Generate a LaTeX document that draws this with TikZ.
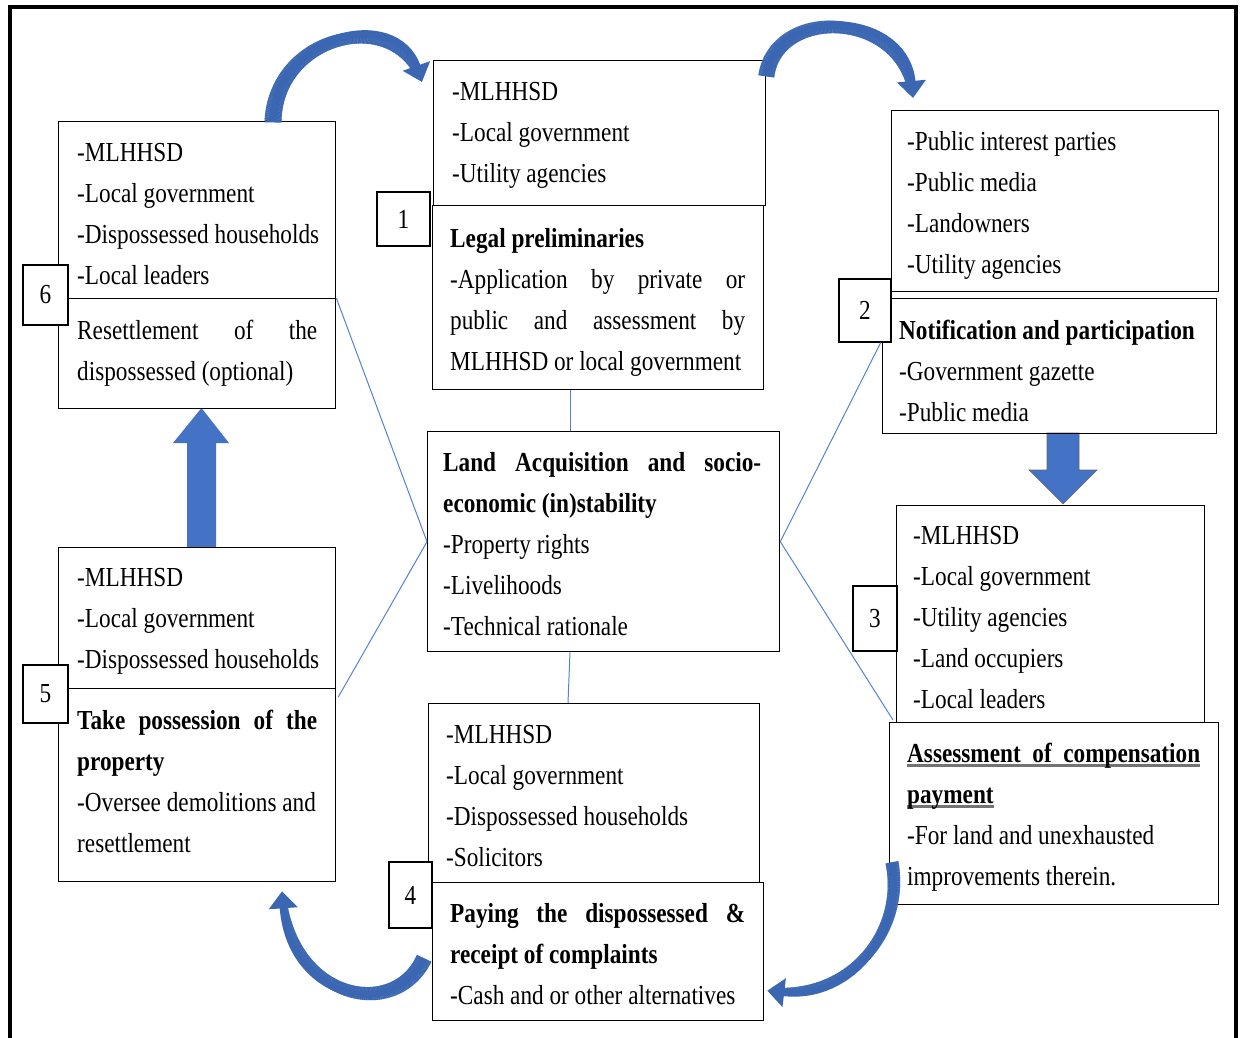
\documentclass[tikz,border=0pt]{standalone}
\usepackage{fontspec}
\setmainfont{Liberation Serif}[FakeStretch=0.845]
\usetikzlibrary{arrows.meta,calc,decorations.markings}
\definecolor{linkblue}{RGB}{84,130,206}
\definecolor{arrowblue}{RGB}{59,103,178}
\definecolor{blockblue}{RGB}{68,114,196}
% a line stretched to a given width
\newcommand\jl[2]{\makebox[#1][s]{#2}}
% heading underline with a soft grey bar
\newcommand\ulbar[1]{\setbox0\hbox{#1}\rlap{\color{black!55}\rule[-4.5pt]{\wd0}{2.4pt}}\box0}
\begin{document}
\begin{tikzpicture}[x=1pt,y=-1pt,
  box/.style={draw=black, line width=1.3pt, rectangle, anchor=north west, inner sep=0pt},
  numbox/.style={draw=black, line width=1.3pt, fill=white, rectangle, inner sep=0pt,
    font=\fontsize{27.5}{33}\selectfont},
  txt/.style={anchor=north west, inner sep=0pt, align=left,
    font=\fontsize{27.5}{41}\selectfont},
  conn/.style={draw=linkblue, line width=1pt},
  % tapered curved arrow: start width #1, end width #2
  curv/.style 2 args={draw=arrowblue, line width=#2pt, -{Triangle[width=28pt,length=17pt]},
    postaction={decorate}, decoration={markings,
    mark=between positions 0 and -17pt step 0.6pt with {%
      \pgfmathsetmacro\tw{#1-(#1-#2)*\pgfkeysvalueof{/pgf/decoration/mark info/distance from start}/\pgfdecoratedpathlength}%
      \fill[arrowblue] (-0.45pt,-\tw pt/2) rectangle (0.45pt,\tw pt/2);}}},
  blockarrow/.style={fill=blockblue, draw=black!60, line width=0.6pt}
]
\useasboundingbox (0,0) rectangle (1243,1037);

% outer frame
\draw[line width=4pt] (10,1040) -- (10,7) -- (1236,7) -- (1236,1040);

% block arrows between stages 2-3 and 5-6
\path[blockarrow] (1047,433) -- (1079,433) -- (1079,470) -- (1097,470) -- (1063,504)
  -- (1029,470) -- (1047,470) -- cycle;
\path[blockarrow, draw=none] (187,547) -- (216,547) -- (216,443) -- (229,443) -- (201.5,408)
  -- (173,443) -- (187,443) -- cycle;

% stage boxes
\node[box, minimum width=332pt, minimum height=145pt] (b1a) at (433,60) {};
\node[box, minimum width=331pt, minimum height=184pt] (b1b) at (432,205) {};
\node[box, minimum width=327pt, minimum height=181pt] (b2a) at (891,110) {};
\node[box, minimum width=334pt, minimum height=135pt] (b2b) at (882,298) {};
\node[box, minimum width=308pt, minimum height=217pt] (b3a) at (896,505) {};
\node[box, minimum width=329pt, minimum height=182pt] (b3b) at (889,722) {};
\node[box, minimum width=331pt, minimum height=179pt] (b4a) at (428,703) {};
\node[box, minimum width=331pt, minimum height=138pt] (b4b) at (432,882) {};
\node[box, minimum width=277pt, minimum height=141pt] (b5a) at (58,547) {};
\node[box, minimum width=277pt, minimum height=193pt] (b5b) at (58,688) {};
\node[box, minimum width=277pt, minimum height=177pt] (b6a) at (58,121) {};
\node[box, minimum width=277pt, minimum height=110pt] (b6b) at (58,298) {};
\node[box, minimum width=352pt, minimum height=220pt] (cen) at (427,431) {};

% stage numbers
\node[numbox, minimum width=53pt, minimum height=54pt] (n1) at (403.5,219) {1};
\node[numbox, minimum width=52pt, minimum height=63pt] (n2) at (865,310.5) {2};
\node[numbox, minimum width=44pt, minimum height=65pt] (n3) at (875,618.5) {3};
\node[numbox, minimum width=43pt, minimum height=66pt] (n4) at (410.5,895) {4};
\node[numbox, minimum width=45pt, minimum height=58pt] (n5) at (45.5,694) {5};
\node[numbox, minimum width=45pt, minimum height=60pt] (n6) at (45.5,295) {6};

% links from the central box
\draw[conn] ($(b1b.south west)+(138,0)$) -- ($(cen.north west)+(143,0)$);
\draw[conn] ($(cen.south west)+(143,0)$) -- ($(b4a.north west)+(140,0)$);
\draw[conn] (cen.west) -- (b6b.north east);
\draw[conn] (cen.west) -- ($(b5b.north east)+(2,9)$);
\draw[conn] (cen.east) -- ($(n2.south east)+(-11,0)$);
\draw[conn] (cen.east) -- ($(b3b.north west)+(4,-2)$);

% curved arrows round the cycle
\draw[curv={17}{8}] ($(b6a.north west)+(215,1)$) .. controls +(2,-87) and +(-27,-77) .. ($(b1a.north west)+(-11,22)$);
\draw[curv={16}{8}] ($(b1a.north east)+(0,16)$) .. controls +(10,-71) and +(-8,-88) .. ($(b2a.north west)+(22,-12)$);
\draw[curv={13}{7}] ($(b3b.west)+(3,49)$) .. controls +(13,68) and +(84,10) .. ($(b4b.east)+(3,39)$);
\draw[curv={16}{7}] ($(b4b.west)+(-8,7)$) .. controls +(-29,62) and +(8,110) .. ($(b5b.south west)+(224,9)$);

% box texts
\node[txt] (t1a) at (452,71.3) {\strut -MLHHSD\\ -Local government\\ -Utility agencies};
\node[txt] (t1b) at (450,218.3) {\strut\textbf{Legal preliminaries}\\
  \jl{295pt}{-Application by private or}\\ \jl{295pt}{public and assessment by}\\
  MLHHSD or local government};
\node[txt] (t2a) at (907,121.3) {\strut -Public interest parties\\ -Public media\\ -Landowners\\ -Utility agencies};
\node[txt] (t2b) at (899,310.3) {\strut\textbf{Notification and participation}\\ -Government gazette\\ -Public media};
\node[txt] (t3a) at (913,515.3) {\strut -MLHHSD\\ -Local government\\ -Utility agencies\\ -Land occupiers\\ -Local leaders};
\node[txt] (t3b) at (907,733.3) {\strut\ulbar{\jl{293pt}{\textbf{Assessment of compensation}}}\\
  \ulbar{\textbf{payment}}\\ -For land and unexhausted\\ improvements therein.};
\node[txt] (t4a) at (446,714.3) {\strut -MLHHSD\\ -Local government\\ -Dispossessed households\\ -Solicitors};
\node[txt] (t4b) at (450,893.3) {\strut\jl{295pt}{\textbf{Paying the dispossessed \&}}\\
  \textbf{receipt of complaints}\\ -Cash and or other alternatives};
\node[txt] (t5a) at (77,557.3) {\strut -MLHHSD\\ -Local government\\ -Dispossessed households};
\node[txt] (t5b) at (77,700.3) {\strut\jl{240pt}{\textbf{Take possession of the}}\\
  \textbf{property}\\ -Oversee demolitions and\\ resettlement};
\node[txt] (t6a) at (77,132.3) {\strut -MLHHSD\\ -Local government\\ -Dispossessed households\\ -Local leaders};
\node[txt] (t6b) at (77,310.3) {\strut\jl{240pt}{Resettlement of the}\\ dispossessed (optional)};
\node[txt] (tc) at (443,442.3) {\strut\jl{318pt}{\textbf{Land Acquisition and socio-}}\\
  \textbf{economic (in)stability}\\ -Property rights\\ -Livelihoods\\ -Technical rationale};
\end{tikzpicture}
\end{document}
